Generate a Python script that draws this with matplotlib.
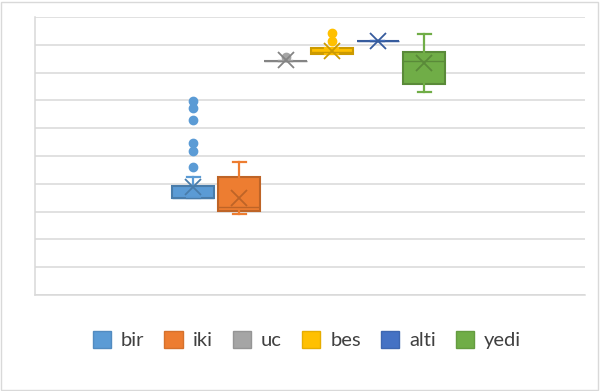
import matplotlib
matplotlib.use("Agg")
import matplotlib.pyplot as plt
from matplotlib.patches import Patch, Rectangle
from matplotlib.colors import to_rgb

# Series names and colours
series = ["bir", "iki", "uc", "bes", "alti", "yedi"]
colors = ["#5B9BD5", "#ED7D31", "#A5A5A5", "#FFC000", "#4472C4", "#70AD47"]

# Five-number summaries, means and outliers per series
whislo = [3.49, 2.91, 8.42, 8.66, 9.14, 7.29]
q1     = [3.49, 3.03, 8.42, 8.66, 9.14, 7.58]
med    = [3.49, 3.18, 8.42, 8.75, 9.14, 8.42]
q3     = [3.92, 4.26, 8.42, 8.87, 9.14, 8.73]
whishi = [4.24, 4.77, 8.42, 8.87, 9.14, 9.39]
means  = [3.90, 3.48, 8.45, 8.76, 9.14, 8.33]
fliers = [
    [6.98, 6.73, 6.29, 5.47, 5.18, 4.60],
    [],
    [8.56],
    [9.41, 9.14],
    [],
    [],
]

def darker(c, f=0.8):
    r, g, b = to_rgb(c)
    return (r * f, g * f, b * f)

fig = plt.figure(figsize=(6.0, 3.91), dpi=100)
ax = fig.add_axes([35 / 600, 1 - 295 / 391, 550 / 600, 278 / 391])

ax.set_ylim(0, 10)
ax.set_xlim(-2.42, 9.48)
ax.set_yticks(range(0, 11))
ax.yaxis.grid(True, color="#D9D9D9", linewidth=1.1)
ax.set_axisbelow(True)
ax.tick_params(left=False, bottom=False, labelleft=False, labelbottom=False)
for side in ["top", "right"]:
    ax.spines[side].set_visible(False)
for side in ["left", "bottom"]:
    ax.spines[side].set_color("#D9D9D9")
    ax.spines[side].set_linewidth(1.1)

width = 0.91
for i, name in enumerate(series):
    stats = [{
        "label": name,
        "whislo": whislo[i], "q1": q1[i], "med": med[i],
        "q3": q3[i], "whishi": whishi[i], "mean": means[i],
        "fliers": fliers[i],
    }]
    c = colors[i]
    dc = darker(c)
    ax.bxp(
        stats, positions=[i + 1], widths=width, capwidths=0.28,
        patch_artist=True, showmeans=True, manage_ticks=False,
        boxprops=dict(facecolor=c, edgecolor=dc, linewidth=1.5),
        medianprops=dict(color=dc, linewidth=1.0),
        whiskerprops=dict(color=c, linewidth=1.6),
        capprops=dict(color=c, linewidth=1.6),
        meanprops=dict(marker="x", markeredgecolor=dc, markersize=12,
                       markeredgewidth=1.3),
        flierprops=dict(marker="o", markerfacecolor=c, markeredgecolor=c,
                        markersize=6),
    )

handles = [Patch(facecolor=c, edgecolor=darker(c, 0.9), label=n)
           for n, c in zip(series, colors)]
fig.legend(handles=handles, loc="center", bbox_to_anchor=(307 / 600, 1 - 340 / 391),
           ncol=6, frameon=False, prop={"family": "Lato", "size": 14.5},
           handlelength=0.9, handleheight=0.9, handletextpad=0.5,
           columnspacing=1.0, labelcolor="#404040")

fig.patches.append(Rectangle((0.002, 0.003), 0.995, 0.993, transform=fig.transFigure,
                             fill=False, edgecolor="#D9D9D9", linewidth=1.0))

fig.savefig("out.png", dpi=100)
